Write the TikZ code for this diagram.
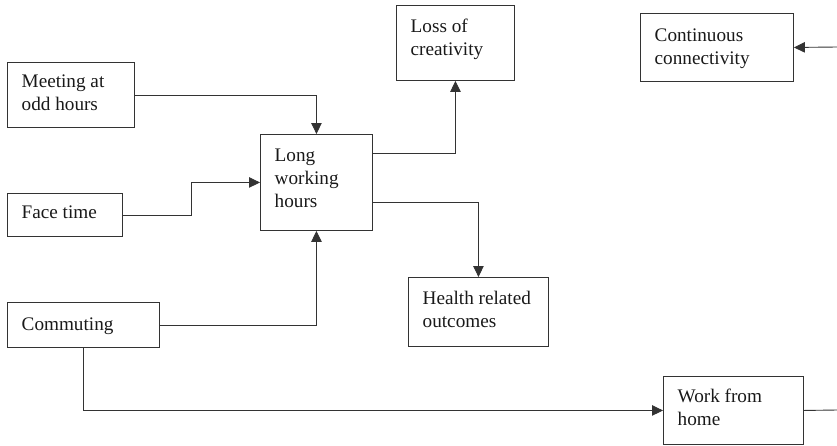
\documentclass[tikz,border=0pt]{standalone}
\usepackage{fontspec}
\setmainfont{Liberation Serif}
\usetikzlibrary{arrows.meta}
\tikzset{
  box/.style={draw=black!80, line width=0.9pt, inner sep=0pt, anchor=north west},
  txt/.style={inner sep=0pt, anchor=north west, align=left, text=black!90,
    font=\fontsize{19.2}{23}\selectfont},
  link/.style={draw=black!80, line width=0.9pt, -{Triangle[length=11pt,width=10.5pt]}},
  plain/.style={draw=black!80, line width=0.9pt}
}
\begin{document}
\begin{tikzpicture}[x=1pt, y=-1pt, line cap=rect, line join=miter]
            \useasboundingbox(0,0)rectangle(837,445);
            \foreach \n/\x/\y/\w/\h/\d/\t in{meet/7/62/127/65/9/{Meeting at\\odd hours},face/7/193/115/43/9/{Face time},comm/7/302/152/45/12/{Commuting},long/260/134/112/96/11/{Long\\working\\hours},loss/396/5/118/75/11/{Loss of\\creativity},cont/640/13/153/68/12/{Continuous\\connectivity},health/408/277/140/69/11/{Health related\\outcomes},work/663/376/140/68/10/{Work from\\home}}
            {\node[box, minimum width=\w, minimum height=\h](\n)at(\x,\y){};
            \node[txt](\n-t)at([shift={(14.5,\d)}]\n.north west){\strut\t};}
            \coordinate(cend)at(837,47);
            \coordinate(wend)at(837,410);
            \draw[link](meet.east)-|(long.north);
            \draw[link](face.east)--++(69,0)|-(long.west);
            \draw[link](comm.east)-|(long.south);
            \draw[link]([yshift=29pt]long.east)-|(loss.south);
            \draw[link]([yshift=-20pt]long.east)-|(health.north);
            \draw[link](comm.south)|-(work.west);
            \draw[link](cend)--(cont.east);
            \draw[plain](work.east)--(wend);
        \end{tikzpicture}
\end{document}
